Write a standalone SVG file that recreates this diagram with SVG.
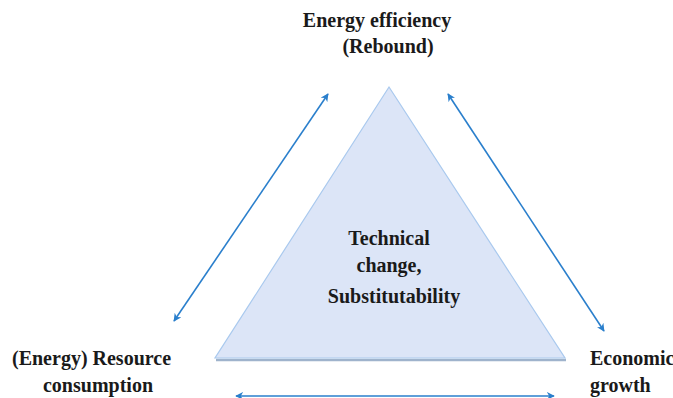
<svg xmlns="http://www.w3.org/2000/svg" width="673" height="398" viewBox="0 0 673 398">
  <style>
    .lbl { font-family: "Liberation Serif", "Times New Roman", serif; font-weight: bold; font-size: 20px; fill: #1a1a1a; }
    .conn { stroke: #2a7fcc; stroke-width: 1.6; fill: none; marker-start: url(#head); marker-end: url(#head); }
  </style>
  <defs>
    <marker id="head" viewBox="0 0 10 10" refX="9" refY="5" markerWidth="8" markerHeight="8" orient="auto-start-reverse" markerUnits="userSpaceOnUse">
      <path d="M0,0 L10,5 L0,10 L3,5 Z" fill="#2a7fcc"/>
    </marker>
  </defs>
  <rect width="673" height="398" fill="#ffffff"/>

  <g id="core">
    <line x1="216" y1="360" x2="566" y2="360" stroke="#9fb3cc" stroke-width="2.5"/>
    <polygon points="389,87 565,358 215,358" fill="#dce5f7" stroke="#a9c9ee" stroke-width="1.2"/>
    <text class="lbl" text-anchor="middle" x="389" y="245">Technical</text>
    <text class="lbl" text-anchor="middle" x="389" y="272">change,</text>
    <text class="lbl" text-anchor="middle" x="394" y="303">Substitutability</text>
  </g>

  <g id="efficiency">
    <text class="lbl" text-anchor="middle" x="377" y="27">Energy efficiency</text>
    <text class="lbl" text-anchor="middle" x="388" y="53">(Rebound)</text>
  </g>

  <g id="resource">
    <text class="lbl" x="12" y="365">(Energy) Resource</text>
    <text class="lbl" text-anchor="middle" x="98" y="392">consumption</text>
  </g>

  <g id="growth">
    <text class="lbl" x="590" y="365">Economic</text>
    <text class="lbl" x="590" y="392">growth</text>
  </g>

  <g id="connectors">
    <line class="conn" x1="174" y1="321" x2="328" y2="94"/>
    <line class="conn" x1="448" y1="94" x2="604" y2="331"/>
    <line class="conn" x1="236" y1="396" x2="554" y2="396" stroke-width="2"/>
  </g>
</svg>
